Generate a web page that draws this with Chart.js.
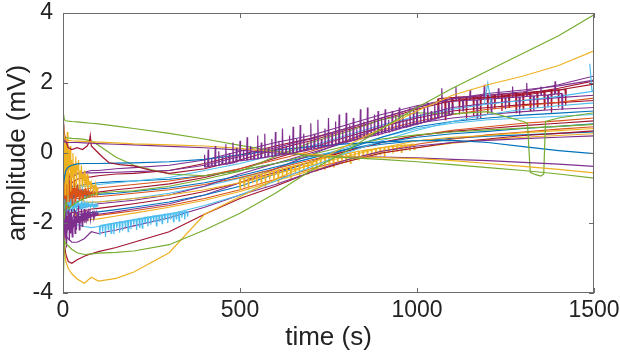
<!DOCTYPE html>
<html>
<head>
<meta charset="utf-8">
<script src="https://cdn.jsdelivr.net/npm/chart.js@4.4.0/dist/chart.umd.min.js"></script>
<style>
  html, body { margin: 0; padding: 0; background: #fff; }
  #wrap { width: 620px; height: 356px; }
</style>
</head>
<body>
<div id="wrap"><canvas id="ampChart" width="620" height="356"></canvas></div>
<script>
// matlab default line colours
var BLUE = '#0072BD', ORANGE = '#D95319', YELLOW = '#EDB120', PURPLE = '#7E2F8E',
    GREEN = '#77AC30', LIGHT = '#4DBEEE', RED = '#A2142F';
var FONT = '"Liberation Sans", Arial, Helvetica, sans-serif';

// axis ticks
var xTicks = [0, 500, 1000, 1500];
var yTicks = [-4, -2, 0, 2, 4];

// common sample times (s)
var times = [0, 4, 8, 15, 25, 40, 60, 80, 100, 150, 200, 300, 400, 500, 600, 700, 800, 900, 1000, 1100, 1200, 1300, 1400, 1500];

// recordings (mV)
var greenRise  = [-3.95, -2.5, -2.6, -2.65, -2.75, -2.85, -2.9, -2.88, -2.86, -2.84, -2.8, -2.62, -2.2, -1.72, -1.15, -0.5, 0.05, 0.7, 1.3, 1.85, 2.35, 2.85, 3.35, 3.95];
var yellowRise = [-2.0, -2.8, -3.1, -3.3, -3.45, -3.6, -3.72, -3.55, -3.66, -3.58, -3.4, -2.85, -1.75, -1.25, -0.75, -0.3, 0.2, 0.7, 1.2, 1.65, 1.95, 2.2, 2.5, 2.92];
var greenTop   = [1.2, 0.95, 0.92, 0.91, 0.9, 0.89, 0.87, 0.85, 0.83, 0.77, 0.7, 0.56, 0.4, 0.22, 0.05, -0.08, -0.13, -0.18, -0.25, -0.33, -0.42, -0.5, -0.6, -0.72];
var purpleFlat = [0.5, 0.32, 0.3, 0.3, 0.3, 0.3, 0.29, 0.28, 0.27, 0.25, 0.23, 0.19, 0.15, 0.08, 0.0, -0.06, -0.1, -0.12, -0.14, -0.18, -0.22, -0.27, -0.32, -0.38];
var yellowFlat = [0.85, 0.45, 0.38, 0.36, 0.35, 0.34, 0.33, 0.32, 0.31, 0.29, 0.26, 0.23, 0.2, 0.13, 0.04, -0.04, -0.1, -0.13, -0.16, -0.22, -0.3, -0.38, -0.47, -0.57];
var blueArch   = [-1.0, -0.7, -0.5, -0.4, -0.35, -0.31, -0.3, -0.3, -0.3, -0.29, -0.28, -0.25, -0.18, -0.05, 0.08, 0.18, 0.26, 0.32, 0.35, 0.36, 0.3, 0.18, 0.07, -0.02];
var greenDrop  = [0.6, 0.46, 0.44, 0.43, 0.42, 0.41, 0.39, 0.34, 0.22, -0.12, -0.35, -0.6, -0.65, -0.5, -0.3, -0.05, 0.2, 0.4, 0.52, 0.6, 0.66, 0.71, 0.76, 0.82];
var redLow     = [-1.5, -2.6, -2.9, -3.1, -3.15, -3.05, -2.95, -2.88, -2.82, -2.7, -2.55, -2.25, -1.75, -1.3, -0.95, -0.55, -0.25, 0.0, 0.15, 0.3, 0.4, 0.5, 0.56, 0.63];
var purpleLow  = [-1.8, -2.2, -2.35, -2.45, -2.55, -2.55, -2.45, -2.25, -2.3, -2.2, -2.08, -1.85, -1.55, -1.2, -0.9, -0.55, -0.2, 0.05, 0.2, 0.3, 0.36, 0.41, 0.45, 0.49];
var lightLow   = [-1.5, -1.7, -1.85, -1.95, -2.0, -2.05, -2.1, -2.13, -2.1, -2.0, -1.92, -1.75, -1.5, -1.2, -0.8, -0.4, 0.0, 0.35, 0.65, 0.9, 1.1, 1.25, 1.35, 1.43];
var purpleMid  = [-1.5, -1.0, -0.8, -0.7, -0.62, -0.58, -0.57, -0.57, -0.56, -0.55, -0.53, -0.5, -0.35, -0.1, 0.15, 0.4, 0.7, 1.0, 1.3, 1.55, 1.7, 1.8, 1.92, 2.08];
var purple1 = [-0.9, -1.0, -0.8, -0.9, -0.7, -0.6, -0.55, -0.5, -0.5, -0.45, -0.42, -0.35, -0.2, 0.05, 0.3, 0.5, 0.8, 1.1, 1.35, 1.55, 1.65, 1.75, 1.95, 2.2];
var red1    = [-1.2, -0.9, -1.1, -1.0, -0.85, -0.75, -0.7, -0.68, -0.65, -0.6, -0.58, -0.5, -0.3, -0.05, 0.2, 0.42, 0.7, 1.0, 1.3, 1.55, 1.6, 1.68, 1.85, 2.06];
var light1  = [-1.4, -1.1, -1.3, -1.2, -1.1, -1.0, -0.95, -0.95, -0.9, -0.85, -0.8, -0.7, -0.5, -0.3, -0.05, 0.2, 0.5, 0.8, 1.05, 1.25, 1.4, 1.5, 1.62, 1.77];
var orange1 = [-0.6, -1.2, -0.9, -1.3, -1.0, -1.1, -1.05, -1.0, -1.0, -0.95, -0.9, -0.8, -0.65, -0.45, -0.2, 0.05, 0.35, 0.65, 0.9, 1.1, 1.25, 1.35, 1.45, 1.57];
var orange2 = [-1.0, -1.5, -0.7, -1.4, -1.2, -1.3, -1.3, -1.25, -1.25, -1.2, -1.15, -1.05, -0.9, -0.7, -0.45, -0.2, 0.05, 0.3, 0.5, 0.65, 0.75, 0.85, 0.92, 1.0];
var blue1   = [-1.1, -1.2, -1.0, -1.15, -1.05, -1.15, -1.2, -1.2, -1.18, -1.15, -1.1, -1.0, -0.85, -0.65, -0.4, -0.15, 0.1, 0.3, 0.45, 0.55, 0.62, 0.7, 0.76, 0.83];
var yellow1 = [0.4, -0.5, 0.2, -0.8, -0.3, -1.2, -1.4, -1.4, -1.4, -1.35, -1.3, -1.2, -1.05, -0.85, -0.6, -0.35, -0.1, 0.15, 0.35, 0.45, 0.5, 0.58, 0.64, 0.7];
var purple2 = [-2.0, -1.6, -2.2, -1.7, -1.9, -1.6, -1.55, -1.5, -1.45, -1.4, -1.35, -1.2, -0.95, -0.6, -0.3, 0.0, 0.3, 0.6, 0.85, 1.0, 1.1, 1.18, 1.25, 1.3];
var red2    = [-2.5, -2.0, -1.6, -1.75, -1.7, -1.7, -1.65, -1.6, -1.58, -1.52, -1.45, -1.3, -1.1, -0.85, -0.55, -0.25, 0.05, 0.3, 0.5, 0.62, 0.7, 0.78, 0.85, 0.92];
var blue2   = [-1.3, -1.5, -1.2, -1.6, -1.5, -1.75, -1.75, -1.7, -1.68, -1.62, -1.55, -1.4, -1.2, -0.95, -0.6, -0.25, 0.1, 0.45, 0.75, 0.9, 1.0, 1.08, 1.14, 1.2];
var orange3 = [-0.2, -0.8, -1.3, -0.6, -1.5, -1.85, -1.85, -1.8, -1.78, -1.72, -1.65, -1.5, -1.3, -1.05, -0.75, -0.45, -0.2, 0.05, 0.25, 0.4, 0.52, 0.6, 0.68, 0.75];
var yellow2 = [-0.8, -0.3, -1.1, -0.5, -1.3, -1.95, -1.95, -1.9, -1.88, -1.8, -1.72, -1.55, -1.35, -1.1, -0.8, -0.5, -0.25, 0.0, 0.15, 0.28, 0.38, 0.45, 0.5, 0.55];
var purple3 = [-2.2, -1.8, -2.4, -2.0, -2.2, -1.9, -1.85, -1.8, -1.75, -1.68, -1.6, -1.45, -1.2, -0.85, -0.45, -0.05, 0.35, 0.75, 1.05, 1.3, 1.42, 1.5, 1.58, 1.65];
var light2  = [-1.8, -1.3, -1.9, -1.4, -1.7, -1.45, -1.45, -1.42, -1.4, -1.35, -1.3, -1.15, -0.95, -0.72, -0.45, -0.15, 0.15, 0.45, 0.7, 0.85, 0.95, 1.0, 1.05, 1.1];
var red3    = [-1.6, -1.9, -1.3, -1.5, -1.3, -1.25, -1.2, -1.15, -1.12, -1.05, -1.0, -0.88, -0.7, -0.45, -0.15, 0.15, 0.45, 0.75, 1.0, 1.2, 1.3, 1.38, 1.44, 1.5];
var blue3   = [-0.9, -0.6, -1.0, -0.8, -0.95, -0.95, -0.9, -0.88, -0.85, -0.82, -0.8, -0.75, -0.65, -0.5, -0.3, -0.1, 0.1, 0.25, 0.35, 0.42, 0.48, 0.52, 0.56, 0.6];

// red trace with the early bump
var redBumpT = [0, 3, 8, 15, 25, 40, 55, 68, 74, 77, 80, 90, 110, 130, 160, 200, 250, 300, 400, 500, 600, 700, 800, 900, 1000, 1100, 1200, 1300, 1400, 1500];
var redBumpV = [1.2, 0.6, 0.35, 0.15, 0.1, 0.15, 0.1, 0.2, 0.3, 0.5, 0.2, 0.1, -0.1, -0.28, -0.33, -0.37, -0.5, -0.58, -0.45, -0.2, 0.1, 0.35, 0.65, 0.95, 1.25, 1.5, 1.58, 1.65, 1.8, 1.97];

// green trace with the drop near 1330 s
var greenDipT = [0, 4, 8, 15, 25, 40, 60, 80, 100, 150, 200, 300, 400, 500, 600, 700, 800, 900, 1000, 1100, 1200, 1300, 1312, 1320, 1335, 1350, 1358, 1363, 1400, 1500];
var greenDipV = [-1.5, -1.8, -1.4, -1.6, -1.5, -1.4, -1.3, -1.2, -1.15, -1.1, -1.08, -0.95, -0.75, -0.52, -0.1, 0.3, 0.6, 0.95, 1.15, 1.12, 1.18, 0.9, 0.85, -0.55, -0.62, -0.66, -0.6, 0.9, 1.0, 1.15];

// noisy start of the recordings
var noiseT = [0, 2, 4, 6, 8, 10, 12, 14, 16, 18, 20, 22, 24, 26, 28, 30, 32, 34, 36, 38, 40, 42, 44, 46, 48, 50, 52, 54, 56, 58, 60, 62, 64, 66, 68, 70, 72, 74, 76, 78, 80, 82, 84, 86, 88, 90, 92, 94, 96, 98, 100];
var yellowNoise = [0.8, -0.6, 0.5, -1.2, 0.3, -0.9, 0.6, -1.4, 0.1, -0.5, 0.2, -1.1, -0.2, -0.7, 0.0, -1.0, -0.3, -0.6, -0.1, -0.9, -0.4, -0.5, -0.2, -1.0, -0.5, -0.7, -0.35, -0.95, -0.6, -0.8, -0.5, -1.0, -0.7, -0.85, -0.6, -1.05, -0.75, -0.9, -0.8, -1.1, -0.85, -0.95, -0.9, -1.15, -0.95, -1.0, -0.9, -1.2, -1.0, -1.05, -1.0];
var orangeNoise = [-0.4, -1.5, -0.6, -1.3, -0.5, -1.6, -0.8, -1.2, -0.6, -1.4, -0.9, -1.3, -0.7, -1.5, -1.0, -1.2, -0.8, -1.4, -1.0, -1.3, -0.9, -1.25, -1.05, -1.35, -1.0, -1.2, -1.1, -1.3, -1.05, -1.25, -1.1, -1.2, -1.0, -1.3, -1.1, -1.15, -1.05, -1.25, -1.1, -1.2, -1.15, -1.1, -1.2, -1.15, -1.1, -1.2, -1.15, -1.18, -1.12, -1.2, -1.15];
var purpleNoise = [-1.4, -2.6, -1.6, -2.4, -1.3, -2.7, -1.8, -2.2, -1.5, -2.5, -1.7, -2.3, -1.6, -2.4, -1.9, -2.1, -1.6, -2.3, -1.8, -2.2, -1.7, -2.0, -1.5, -2.2, -1.8, -1.9, -1.6, -2.1, -1.7, -1.95, -1.6, -2.0, -1.75, -1.9, -1.65, -1.95, -1.7, -1.85, -1.6, -1.9, -1.75, -1.8, -1.65, -1.85, -1.7, -1.8, -1.72, -1.78, -1.7, -1.75, -1.72];
var blueNoise = [-0.9, -1.35, -0.95, -1.3, -0.85, -1.4, -1.0, -1.25, -0.9, -1.3, -1.0, -1.2, -0.95, -1.3, -1.05, -1.2, -1.0, -1.25, -1.05, -1.15, -1.0, -1.2, -1.08, -1.18, -1.05, -1.15, -1.1, -1.2, -1.08, -1.15, -1.1, -1.18, -1.1, -1.15, -1.12, -1.17, -1.1, -1.16, -1.12, -1.15, -1.13, -1.16, -1.12, -1.15, -1.14, -1.16, -1.13, -1.15, -1.14, -1.16, -1.15];
var lightNoise = [-1.2, -1.7, -1.3, -1.65, -1.15, -1.75, -1.35, -1.6, -1.25, -1.7, -1.4, -1.55, -1.3, -1.65, -1.4, -1.6, -1.35, -1.55, -1.45, -1.6, -1.4, -1.55, -1.42, -1.58, -1.45, -1.55, -1.4, -1.6, -1.45, -1.52, -1.42, -1.58, -1.46, -1.54, -1.44, -1.56, -1.46, -1.52, -1.45, -1.55, -1.47, -1.52, -1.46, -1.54, -1.48, -1.52, -1.47, -1.53, -1.48, -1.51, -1.49];

// purple spike train in the middle: spike time, level under it, spike top
var purpleSpikeT = [400, 410, 420, 430, 440, 450, 460, 470, 480, 490, 500, 510, 520, 530, 540, 550, 560, 570, 580, 590, 600, 610, 620, 630, 640, 650, 660, 670, 680, 690, 700, 710, 720, 730, 740, 750, 760, 770, 780, 790, 800, 810, 820, 830, 840, 850, 860, 870, 880, 890, 900, 910, 920, 930, 940, 950, 960, 970, 980, 990, 1000, 1010, 1020, 1030, 1040, 1050, 1060, 1070, 1080, 1090, 1100];
var purpleSpikeBase = [-0.4, -0.39, -0.37, -0.36, -0.35, -0.33, -0.32, -0.3, -0.28, -0.25, -0.22, -0.21, -0.2, -0.18, -0.17, -0.16, -0.14, -0.13, -0.11, -0.1, -0.08, -0.06, -0.05, -0.03, -0.02, 0.0, 0.02, 0.04, 0.06, 0.08, 0.1, 0.12, 0.14, 0.16, 0.18, 0.2, 0.22, 0.25, 0.27, 0.3, 0.32, 0.34, 0.36, 0.38, 0.4, 0.43, 0.45, 0.48, 0.5, 0.52, 0.55, 0.58, 0.6, 0.63, 0.66, 0.69, 0.72, 0.74, 0.77, 0.8, 0.82, 0.85, 0.88, 0.91, 0.94, 0.97, 1.0, 1.03, 1.06, 1.08, 1.1];
var purpleSpikeTop = [-0.05, 0.1, -0.15, 0.2, 0.05, -0.1, 0.25, 0.0, 0.3, 0.15, 0.35, 0.1, 0.45, 0.2, 0.05, 0.5, 0.3, 0.55, 0.15, 0.4, 0.6, 0.35, 0.7, 0.2, 0.5, 0.75, 0.4, 0.8, 0.55, 0.3, 0.85, 0.55, 0.95, 0.4, 0.7, 1.0, 0.6, 0.9, 1.1, 0.65, 1.15, 0.8, 1.0, 0.7, 1.25, 0.9, 1.3, 0.85, 1.1, 1.2, 1.0, 1.25, 0.95, 1.2, 1.05, 1.3, 1.15, 0.95, 1.3, 1.2, 1.35, 1.1, 1.3, 1.45, 1.2, 1.4, 1.35, 1.5, 1.3, 1.45, 1.4];

// light blue comb, early (spikes point down)
var lightCombT = [104, 112, 120, 128, 136, 144, 152, 160, 168, 176, 184, 192, 200, 208, 216, 224, 232, 240, 248, 256, 264, 272, 280, 288, 296, 304, 312, 320, 328, 336, 344, 352];
var lightCombBase = [-2.08, -2.06, -2.05, -2.03, -2.02, -2.0, -1.99, -1.97, -1.96, -1.95, -1.93, -1.92, -1.9, -1.89, -1.87, -1.86, -1.84, -1.83, -1.82, -1.8, -1.79, -1.78, -1.77, -1.75, -1.74, -1.73, -1.72, -1.71, -1.7, -1.69, -1.68, -1.67];
var lightCombTip = [-2.35, -2.25, -2.4, -2.2, -2.3, -2.32, -2.15, -2.28, -2.22, -2.1, -2.25, -2.18, -2.05, -2.2, -2.12, -2.15, -2.0, -2.1, -2.05, -1.98, -2.08, -1.95, -2.02, -1.92, -2.0, -1.9, -1.96, -1.88, -1.95, -1.85, -1.9, -1.82];

// yellow comb along the lower edge of the bundle (spikes point down)
var yellowCombT = [500, 512, 524, 536, 548, 560, 572, 584, 596, 608, 620, 632, 644, 656, 668, 680, 692, 704, 716, 728, 740, 752, 764, 776, 788, 800, 812, 824, 836, 848, 860, 872, 884, 896, 908, 920, 932, 944, 956, 968, 980, 992];
var yellowCombBase = [-0.75, -0.72, -0.69, -0.66, -0.63, -0.6, -0.57, -0.54, -0.51, -0.48, -0.45, -0.42, -0.39, -0.36, -0.33, -0.3, -0.27, -0.24, -0.21, -0.18, -0.15, -0.12, -0.1, -0.07, -0.04, -0.02, 0.0, 0.03, 0.05, 0.07, 0.09, 0.11, 0.13, 0.15, 0.16, 0.18, 0.19, 0.2, 0.22, 0.23, 0.24, 0.25];
var yellowCombTip = [-1.05, -0.97, -1.04, -0.86, -0.93, -0.88, -0.97, -0.76, -0.81, -0.83, -0.7, -0.72, -0.77, -0.56, -0.65, -0.58, -0.62, -0.49, -0.51, -0.4, -0.48, -0.39, -0.4, -0.27, -0.32, -0.27, -0.3, -0.19, -0.21, -0.13, -0.16, -0.07, -0.09, -0.05, -0.08, 0.0, -0.01, 0.05, 0.02, 0.07, 0.06, 0.1];

// late combs, red (spikes down) and purple (spikes both ways)
var redCombT = [1060, 1080, 1100, 1120, 1140, 1160, 1180, 1200, 1220, 1240, 1260, 1280, 1300, 1320, 1340, 1360, 1380, 1400, 1420];
var redCombBase = [1.55, 1.57, 1.58, 1.6, 1.61, 1.62, 1.64, 1.65, 1.66, 1.68, 1.69, 1.7, 1.72, 1.74, 1.75, 1.77, 1.79, 1.8, 1.82];
var redCombTip = [1.05, 0.95, 1.3, 1.1, 0.95, 1.05, 1.0, 1.1, 1.25, 1.2, 1.3, 1.15, 1.25, 1.2, 1.3, 1.25, 1.15, 1.3, 1.35];
var purpleCombT = [1070, 1090, 1110, 1130, 1150, 1170, 1190, 1210, 1230, 1250, 1270, 1290, 1310, 1330, 1350, 1370, 1390, 1410];
var purpleCombBase = [1.45, 1.47, 1.48, 1.5, 1.51, 1.52, 1.54, 1.55, 1.56, 1.58, 1.59, 1.6, 1.62, 1.63, 1.65, 1.66, 1.68, 1.7];
var purpleCombTip = [1.85, 1.1, 1.9, 1.2, 1.8, 1.0, 1.95, 1.15, 1.85, 1.25, 1.9, 1.1, 2.0, 1.2, 1.9, 1.3, 2.05, 1.25];

// light blue glitches
var lightGlitchT = [1190, 1200, 1210, 1480, 1488, 1494, 1500];
var lightGlitchV = [1.4, 2.0, 1.4, null, 2.55, 1.8, 1.77];

function line(t, v) {
  return t.map(function (x, i) { return { x: x, y: v[i] }; });
}
// narrow spike: level, tip, level
function comb(t, base, tip) {
  var pts = [];
  t.forEach(function (x, i) {
    pts.push({ x: x - 1.5, y: base[i] }, { x: x, y: tip[i] }, { x: x + 1.5, y: base[i] });
  });
  return pts;
}

// drawing order: first entry ends up on top
var traces = [
  [line(times, greenRise), GREEN],
  [line(times, yellowRise), YELLOW],
  [comb(purpleSpikeT, purpleSpikeBase, purpleSpikeTop), PURPLE],
  [line(times, greenTop), GREEN],
  [line(times, yellowFlat), YELLOW],
  [line(times, purpleFlat), PURPLE],
  [line(greenDipT, greenDipV), GREEN],
  [line(redBumpT, redBumpV), RED],
  [line(times, blueArch), BLUE],
  [line(times, greenDrop), GREEN],
  [line(noiseT, yellowNoise), YELLOW],
  [line(noiseT, orangeNoise), ORANGE],
  [line(noiseT, purpleNoise), PURPLE],
  [line(noiseT, blueNoise), BLUE],
  [line(noiseT, lightNoise), LIGHT],
  [comb(lightCombT, lightCombBase, lightCombTip), LIGHT],
  [line(times, lightLow), LIGHT],
  [line(times, purpleLow), PURPLE],
  [line(times, redLow), RED],
  [line(lightGlitchT, lightGlitchV), LIGHT],
  [comb(purpleCombT, purpleCombBase, purpleCombTip), PURPLE],
  [line(times, purpleMid), PURPLE],
  [line(times, purple1), PURPLE],
  [line(times, red1), RED],
  [comb(yellowCombT, yellowCombBase, yellowCombTip), YELLOW],
  [line(times, light1), LIGHT],
  [line(times, orange1), ORANGE],
  [line(times, blue1), BLUE],
  [line(times, yellow1), YELLOW],
  [line(times, purple2), PURPLE],
  [line(times, red2), RED],
  [line(times, orange2), ORANGE],
  [line(times, blue2), BLUE],
  [line(times, orange3), ORANGE],
  [line(times, yellow2), YELLOW],
  [line(times, purple3), PURPLE],
  [line(times, light2), LIGHT],
  [line(times, red3), RED],
  [line(times, blue3), BLUE],
  [comb(redCombT, redCombBase, redCombTip), RED]
];

var datasets = traces.map(function (tr) {
  return {
    data: tr[0],
    borderColor: tr[1],
    borderWidth: 1.2,
    pointRadius: 0,
    tension: 0,
    fill: false,
    spanGaps: false
  };
});

// matlab-like box with inward ticks
var boxPlugin = {
  id: 'box',
  afterDatasetsDraw: function (chart) {
    var ctx = chart.ctx, a = chart.chartArea, sx = chart.scales.x, sy = chart.scales.y;
    ctx.save();
    ctx.strokeStyle = '#6b6b6b';
    ctx.lineWidth = 1;
    ctx.strokeRect(Math.round(a.left) + 0.5, Math.round(a.top) + 0.5,
                   Math.round(a.right - a.left) - 1, Math.round(a.bottom - a.top) - 1);
    ctx.beginPath();
    xTicks.forEach(function (v) {
      var px = Math.round(sx.getPixelForValue(v)) + 0.5;
      ctx.moveTo(px, a.bottom); ctx.lineTo(px, a.bottom - 5);
      ctx.moveTo(px, a.top); ctx.lineTo(px, a.top + 5);
    });
    yTicks.forEach(function (v) {
      var py = Math.round(sy.getPixelForValue(v)) + 0.5;
      ctx.moveTo(a.left, py); ctx.lineTo(a.left + 5, py);
      ctx.moveTo(a.right, py); ctx.lineTo(a.right - 5, py);
    });
    ctx.stroke();
    ctx.restore();
  }
};

var ctx = document.getElementById('ampChart').getContext('2d');
var ampChart = new Chart(ctx, {
  type: 'line',
  data: { datasets: datasets },
  options: {
    responsive: false,
    animation: false,
    events: [],
    layout: { padding: { top: 13, right: 26, left: 0, bottom: 0 } },
    plugins: { legend: { display: false }, tooltip: { enabled: false } },
    scales: {
      x: {
        type: 'linear', min: 0, max: 1500,
        afterFit: function (s) { s.height = 63; s.paddingLeft = 0; s.paddingRight = 0; },
        grid: { display: false, drawTicks: false },
        border: { display: false },
        ticks: {
          stepSize: 500, padding: 6, color: '#222', maxRotation: 0,
          font: { family: FONT, size: 23, lineHeight: 1 },
          callback: function (v) { return String(v); }
        },
        title: {
          display: true, text: 'time (s)', color: '#222',
          font: { family: FONT, size: 26, lineHeight: 1.2 },
          padding: { top: 0, bottom: 3 }
        }
      },
      y: {
        type: 'linear', min: -4, max: 4,
        afterFit: function (s) { s.width = 63; s.paddingTop = 0; s.paddingBottom = 0; },
        grid: { display: false, drawTicks: false },
        border: { display: false },
        ticks: {
          stepSize: 2, padding: 10, color: '#222',
          font: { family: FONT, size: 23, lineHeight: 1 }
        },
        title: {
          display: true, text: 'amplitude (mV)', color: '#222',
          font: { family: FONT, size: 26, lineHeight: 1.2 },
          padding: { top: 2, bottom: 0 }
        }
      }
    }
  },
  plugins: [boxPlugin]
});
</script>
</body>
</html>
